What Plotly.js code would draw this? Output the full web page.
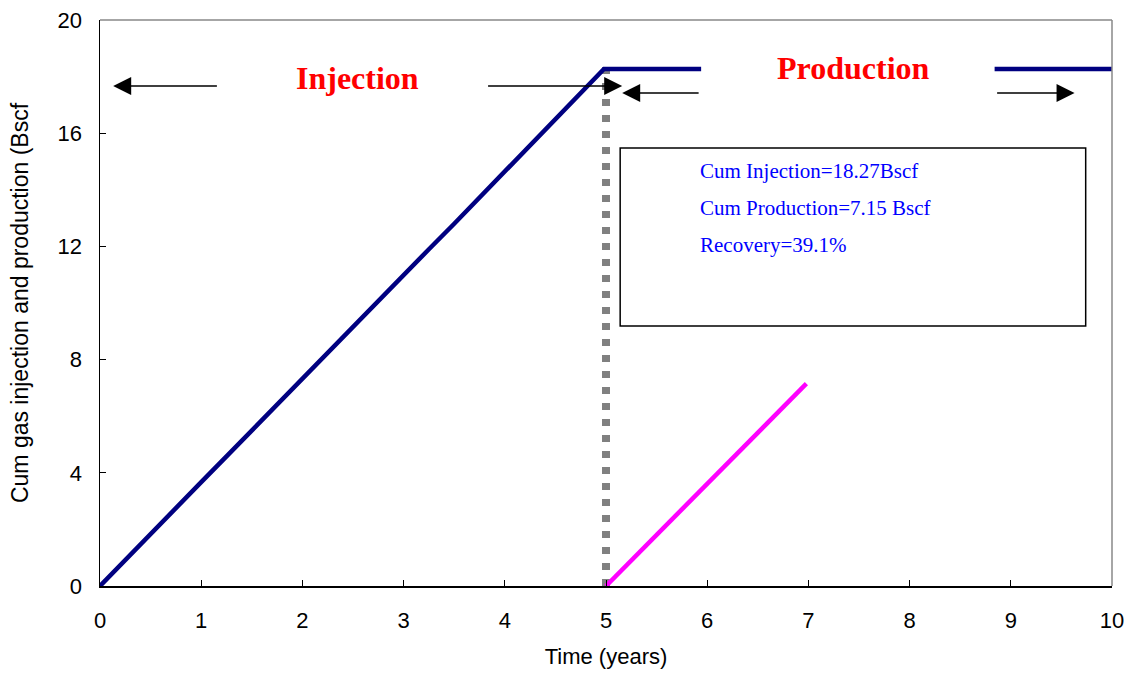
<!DOCTYPE html>
<html>
<head>
<meta charset="utf-8">
<script src="https://cdn.plot.ly/plotly-3.0.1.min.js"></script>
<style>
html,body{margin:0;padding:0;background:#fff;}
#chart{width:1135px;height:681px;}
</style>
</head>
<body>
<div id="chart"></div>
<script>
// Cumulative gas injection (Bscf) vs time (years)
const injTime = [0, 0.25, 0.5, 0.75, 1.0, 1.25, 1.5, 1.75, 2.0, 2.25, 2.5, 2.75, 3.0, 3.25, 3.5, 3.75, 4.0, 4.25, 4.5, 4.75, 4.98, 10];
const injCum  = [0, 0.93, 1.85, 2.76, 3.67, 4.58, 5.50, 6.40, 7.33, 8.22, 9.15, 10.05, 10.98, 11.90, 12.80, 13.72, 14.62, 15.55, 16.45, 17.40, 18.27, 18.27];

// Cumulative gas production (Bscf) vs time (years)
const prodTime = [5.0, 5.25, 5.5, 5.75, 6.0, 6.25, 6.5, 6.75, 6.98];
const prodCum  = [0, 0.90, 1.80, 2.72, 3.62, 4.50, 5.40, 6.30, 7.15];

// Switch from injection to production
const switchTime = [5, 5];
const switchLevel = [0, 18.6];

// Summary texts
const summaryLines = ["Cum Injection=18.27Bscf", "Cum Production=7.15 Bscf", "Recovery=39.1%"];
const phaseLabels = ["Injection", "Production"];

const traces = [
  {x: switchTime, y: switchLevel, mode: 'lines', line: {color: '#808080', width: 8, dash: '7px,9px'}, hoverinfo: 'skip', showlegend: false},
  {x: injTime, y: injCum, mode: 'lines', line: {color: '#000080', width: 4.5}, name: 'Injection', showlegend: false},
  {x: prodTime, y: prodCum, mode: 'lines', line: {color: '#FF00FF', width: 4.5}, name: 'Production', showlegend: false}
];

const serif = 'Liberation Serif, Times New Roman, serif';
const sans = 'Liberation Sans, Arial, sans-serif';

function arrow(x, y, ax, ay) {
  return {x: x, y: y, ax: ax, ay: ay, xref: 'x', yref: 'y', axref: 'x', ayref: 'y',
    text: '', showarrow: true, arrowhead: 2, arrowsize: 2.4, arrowwidth: 1.5, arrowcolor: '#000', standoff: 0, startstandoff: 0};
}

const annotations = [
  {x: 2.54, y: 17.95, xref: 'x', yref: 'y', text: '<b>' + phaseLabels[0] + '</b>', showarrow: false,
   font: {family: serif, size: 32, color: '#FF0000'}},
  {x: 7.45, y: 18.3, xref: 'x', yref: 'y', text: '<b>' + phaseLabels[1] + '</b>', showarrow: false,
   font: {family: serif, size: 32, color: '#FF0000'}},
  arrow(0.13, 17.67, 1.17, 17.67),
  arrow(5.16, 17.67, 3.82, 17.67),
  arrow(5.16, 17.42, 5.93, 17.42),
  arrow(9.63, 17.42, 8.85, 17.42)
];
const summaryY = [14.66, 13.36, 12.05];
summaryLines.forEach((t, i) => {
  annotations.push({x: 5.91, y: summaryY[i], xref: 'x', yref: 'y', xanchor: 'left', yanchor: 'middle',
    text: t, showarrow: false, font: {family: serif, size: 21, color: '#0000FF'}});
});

const shapes = [
  // white gap behind the Production label
  {type: 'rect', xref: 'x', yref: 'y', x0: 5.94, x1: 8.84, y0: 17.75, y1: 18.85, fillcolor: '#fff', line: {width: 0}, layer: 'above'},
  // summary box
  {type: 'rect', xref: 'x', yref: 'y', x0: 5.14, x1: 9.74, y0: 9.19, y1: 15.48, fillcolor: 'rgba(0,0,0,0)', line: {color: '#000', width: 1.5}, layer: 'above'},
  // gray top and right frame
  {type: 'line', xref: 'paper', yref: 'paper', x0: 0, x1: 1, y0: 1, y1: 1, line: {color: '#888', width: 1.5}},
  {type: 'line', xref: 'paper', yref: 'paper', x0: 1, x1: 1, y0: 0, y1: 1, line: {color: '#888', width: 1.5}}
];

const layout = {
  width: 1135, height: 681,
  margin: {l: 100, r: 23, t: 20, b: 95},
  paper_bgcolor: '#fff', plot_bgcolor: '#fff',
  showlegend: false,
  xaxis: {
    range: [0, 10], dtick: 1, tick0: 0, showgrid: false, zeroline: false,
    showline: true, linecolor: '#000', linewidth: 1.5,
    ticks: 'inside', ticklen: 6, tickcolor: '#000', tickwidth: 1,
    ticklabelstandoff: 14,
    tickfont: {family: sans, size: 22, color: '#000'},
    title: {text: 'Time (years)', font: {family: sans, size: 22, color: '#000'}, standoff: 16}
  },
  yaxis: {
    range: [0, 20], dtick: 4, tick0: 0, showgrid: false, zeroline: false,
    showline: true, linecolor: '#000', linewidth: 1.5,
    ticks: 'inside', ticklen: 6, tickcolor: '#000', tickwidth: 1,
    ticklabelstandoff: 12,
    tickfont: {family: sans, size: 22, color: '#000'},
    title: {text: 'Cum gas injection and production (Bscf', font: {family: sans, size: 23, color: '#000'}, standoff: 22}
  },
  shapes: shapes,
  annotations: annotations
};

Plotly.newPlot('chart', traces, layout, {displayModeBar: false, staticPlot: true});
</script>
</body>
</html>
